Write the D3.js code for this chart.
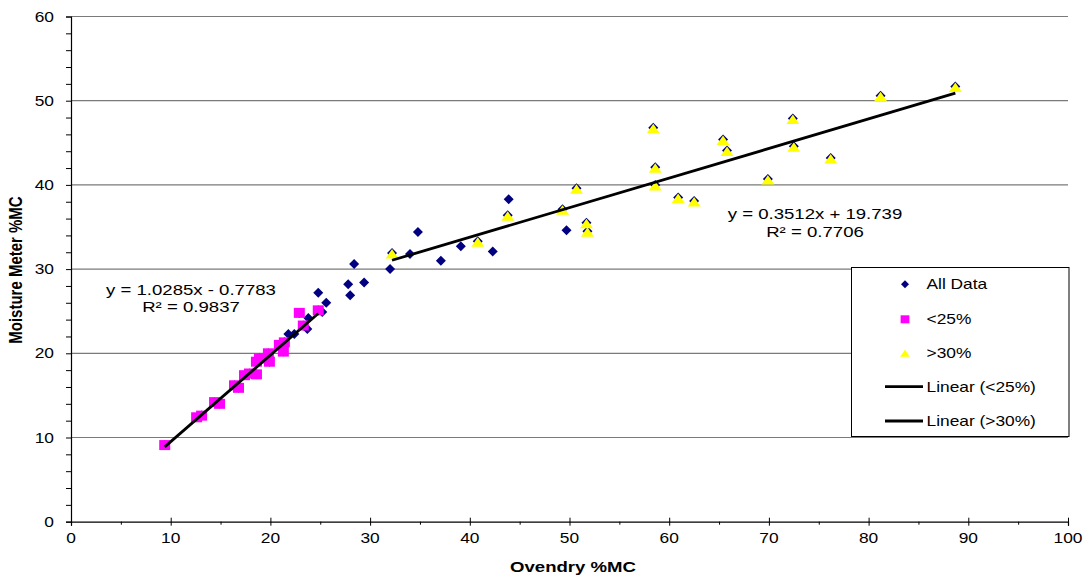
<!DOCTYPE html>
<html>
<head>
<meta charset="utf-8">
<script src="https://cdn.jsdelivr.net/npm/d3@7"></script>
<style>
  html, body { margin: 0; padding: 0; background: #fff; }
  svg { display: block; font-family: "Liberation Sans", Arial, sans-serif; }
</style>
</head>
<body>
<svg id="chart" width="1085" height="578"></svg>
<script>
// Oven-dry moisture content vs. moisture meter reading (%MC)
const under25 = [
  [9.4, 9.1], [12.6, 12.4], [13.1, 12.6], [14.4, 14.2], [14.9, 14.0],
  [16.4, 16.2], [16.8, 15.9], [17.4, 17.4], [17.9, 17.6], [18.6, 17.5],
  [18.6, 19.0], [18.9, 19.4], [19.8, 20.0], [19.9, 19.0], [20.9, 21.0],
  [21.4, 21.3], [21.3, 20.2], [23.3, 23.3], [22.9, 24.8], [24.8, 25.1]
];
const over30 = [
  [32.2, 31.9], [40.8, 33.3], [43.8, 36.4], [49.3, 37.1], [50.7, 39.6],
  [51.7, 35.5], [51.8, 34.5], [58.4, 46.8], [58.6, 42.1], [58.6, 40.0],
  [60.9, 38.5], [62.5, 38.1], [65.4, 45.4], [65.8, 44.1], [69.9, 40.7],
  [72.4, 47.9], [72.5, 44.6], [76.2, 43.2], [81.2, 50.6], [88.7, 51.7]
];
const otherPoints = [
  [21.8, 22.3], [22.4, 22.3], [23.7, 22.9], [23.8, 24.2], [25.2, 24.9],
  [25.6, 26.0], [24.8, 27.2], [27.8, 28.2], [28.0, 26.9], [29.4, 28.4],
  [28.4, 30.6], [32.0, 30.0], [34.0, 31.8], [34.8, 34.4], [37.1, 31.0],
  [39.1, 32.7], [42.3, 32.1], [43.9, 38.3], [49.7, 34.6]
];
const allData = otherPoints.concat(under25, over30);

// Linear fits as labelled on the chart
const fitUnder25 = { slope: 1.0285, intercept: -0.7783, r2: 0.9837 };
const fitOver30 = { slope: 0.3512, intercept: 19.739, r2: 0.7706 };

const xTicks = [0, 10, 20, 30, 40, 50, 60, 70, 80, 90, 100];
const yTicks = [0, 10, 20, 30, 40, 50, 60];
const legendLabels = ["All Data", "<25%", ">30%", "Linear (<25%)", "Linear (>30%)"];

const SX = 1.24; // horizontal stretch applied to text

const svg = d3.select("#chart");
const plotLeft = 71, plotTop = 16.5, plotRight = 1068, plotBottom = 521.7;

const x = d3.scaleLinear().domain([0, 100]).range([plotLeft, plotRight]);
const y = d3.scaleLinear().domain([0, 60]).range([plotBottom, plotTop]);

function label(g, px, py, str, size, anchor, weight) {
  return g.append("text")
    .attr("transform", `translate(${px},${py}) scale(${SX},1)`)
    .attr("text-anchor", anchor || "start")
    .attr("font-size", size)
    .attr("font-weight", weight || "normal")
    .attr("fill", "#000")
    .text(str);
}

// gridlines
svg.append("g").selectAll("line")
  .data(yTicks.filter(d => d > 0))
  .join("line")
  .attr("x1", plotLeft).attr("x2", plotRight)
  .attr("y1", d => y(d)).attr("y2", d => y(d))
  .attr("stroke", "#7a7a7a").attr("stroke-width", 1.2);

// axes
const xAxis = svg.append("g").attr("transform", `translate(0,${plotBottom})`)
  .call(d3.axisBottom(x).tickValues(d3.range(0, 101, 5)).tickSize(4).tickFormat(""));
xAxis.select(".domain").attr("stroke", "#000").attr("stroke-width", 1.2);
xAxis.selectAll(".tick line")
  .attr("y1", d => d % 10 === 0 ? -4 : 0)
  .attr("y2", d => d % 10 === 0 ? 4 : 3)
  .attr("stroke", "#000");

const yAxis = svg.append("g").attr("transform", `translate(${plotLeft},0)`)
  .call(d3.axisLeft(y).tickValues(d3.range(0, 61, 2)).tickSize(5).tickFormat(""));
yAxis.select(".domain").attr("stroke", "#000").attr("stroke-width", 1.2);
yAxis.selectAll(".tick line").attr("stroke", "#000");

const tickLabels = svg.append("g");
xTicks.forEach(v => label(tickLabels, x(v), plotBottom + 21, String(v), 14, "middle"));
yTicks.forEach(v => label(tickLabels, 54, y(v) + 5, String(v), 14, "end"));

// axis titles
label(svg, 573, 572, "Ovendry %MC", 15, "middle", "bold");
svg.append("text")
  .attr("transform", `translate(22,270) scale(${SX},1) rotate(-90)`)
  .attr("text-anchor", "middle")
  .attr("font-size", 15)
  .attr("font-weight", "bold")
  .text("Moisture Meter %MC");

// marker shapes
const diamond = "M0,-5L5,0L0,5L-5,0Z";
const square = "M-5.5,-5L5.5,-5L5.5,5L-5.5,5Z";
const triangle = "M0,-4L6.5,5.5L-6.5,5.5Z";

svg.append("g").selectAll("path")
  .data(allData).join("path")
  .attr("d", diamond)
  .attr("transform", d => `translate(${x(d[0])},${y(d[1])})`)
  .attr("fill", "#000080");

svg.append("g").selectAll("path")
  .data(under25).join("path")
  .attr("d", square)
  .attr("transform", d => `translate(${x(d[0])},${y(d[1])})`)
  .attr("fill", "#FF00FF");

svg.append("g").selectAll("path")
  .data(over30).join("path")
  .attr("d", triangle)
  .attr("transform", d => `translate(${x(d[0])},${y(d[1])})`)
  .attr("fill", "#FFFF00");

// trend lines across each subset's x range
function trend(points, fit) {
  const xs = d3.extent(points, d => d[0]);
  svg.append("line")
    .attr("x1", x(xs[0])).attr("y1", y(fit.slope * xs[0] + fit.intercept))
    .attr("x2", x(xs[1])).attr("y2", y(fit.slope * xs[1] + fit.intercept))
    .attr("stroke", "#000").attr("stroke-width", 2.8);
}
trend(under25, fitUnder25);
trend(over30, fitOver30);

// equations
const eq = svg.append("g");
label(eq, 191, 295, `y = ${fitUnder25.slope}x - ${Math.abs(fitUnder25.intercept)}`, 15, "middle");
label(eq, 191, 312, `R² = ${fitUnder25.r2}`, 15, "middle");
label(eq, 815, 219, `y = ${fitOver30.slope}x + ${fitOver30.intercept}`, 15, "middle");
label(eq, 815, 237, `R² = ${fitOver30.r2}`, 15, "middle");

// legend
const lg = svg.append("g");
lg.append("rect").attr("x", 851.5).attr("y", 267.5).attr("width", 217.5).attr("height", 169)
  .attr("fill", "#fff").attr("stroke", "#000").attr("stroke-width", 1);
const rowY = [284.3, 319.3, 352.7, 386.7, 421];
const legendShapes = [
  { d: diamond, fill: "#000080", s: 0.8 },
  { d: square, fill: "#FF00FF", s: 0.8 },
  { d: triangle, fill: "#FFFF00", s: 0.75 }
];
legendShapes.forEach((m, i) => {
  lg.append("path").attr("d", m.d).attr("fill", m.fill)
    .attr("transform", `translate(905,${rowY[i]}) scale(${m.s})`);
});
[3, 4].forEach(i => {
  lg.append("line").attr("x1", 885).attr("x2", 923)
    .attr("y1", rowY[i]).attr("y2", rowY[i])
    .attr("stroke", "#000").attr("stroke-width", 2.8);
});
legendLabels.forEach((t, i) => label(lg, 926.5, rowY[i] + 5, t, 14, "start"));
</script>
</body>
</html>
